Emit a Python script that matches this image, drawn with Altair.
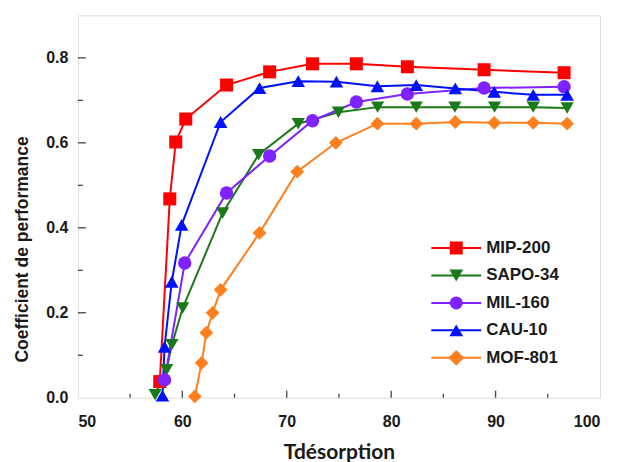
import altair as alt
import pandas as pd

# ---------------- data ----------------
series = ["MIP-200", "SAPO-34", "MIL-160", "CAU-10", "MOF-801"]
colors = ["#ff0000", "#1a7a1a", "#7f22ff", "#0011ff", "#ff7f1e"]
shapes = ["square", "triangle-down", "circle", "triangle-up", "diamond"]
sizes = [170, 190, 170, 190, 250]

mip_x = [57.84, 58.8, 59.37, 60.33, 64.24, 68.36, 72.47, 76.67, 81.55, 88.9, 96.56]
mip_y = [0.038, 0.468, 0.602, 0.656, 0.736, 0.767, 0.786, 0.786, 0.779, 0.772, 0.765]

sapo_x = [57.4, 58.5, 59.0, 60.04, 63.86, 67.3, 71.1, 74.95, 78.7, 82.4, 86.1, 89.9, 93.6, 96.85]
sapo_y = [0.007, 0.066, 0.125, 0.211, 0.435, 0.572, 0.645, 0.672, 0.684, 0.684, 0.684, 0.684, 0.684, 0.682]

mil_x = [58.3, 60.23, 64.24, 68.36, 72.47, 76.67, 81.55, 88.9, 96.56]
mil_y = [0.042, 0.317, 0.482, 0.569, 0.652, 0.696, 0.715, 0.729, 0.732]

cau_x = [58.1, 58.3, 58.99, 59.94, 63.67, 67.4, 71.1, 74.76, 78.68, 82.4, 86.14, 89.87, 93.6, 96.85]
cau_y = [0.005, 0.12, 0.273, 0.407, 0.649, 0.729, 0.745, 0.744, 0.733, 0.736, 0.728, 0.72, 0.713, 0.713]

mof_x = [61.2, 61.85, 62.3, 62.9, 63.67, 67.4, 71.0, 74.7, 78.68, 82.4, 86.14, 89.87, 93.6, 96.85]
mof_y = [0.003, 0.082, 0.153, 0.2, 0.254, 0.388, 0.532, 0.6, 0.645, 0.645, 0.649, 0.647, 0.647, 0.645]

x_major = [60, 70, 80, 90]
x_minor = [55, 65, 75, 85, 95]
y_major = [0.2, 0.4, 0.6, 0.8]
y_minor = [0.1, 0.3, 0.5, 0.7]

# ---------------- build table ----------------
rows = []
for name, xs, ys in zip(series,
                        [mip_x, sapo_x, mil_x, cau_x, mof_x],
                        [mip_y, sapo_y, mil_y, cau_y, mof_y]):
    for i, (x, y) in enumerate(zip(xs, ys)):
        rows.append({"serie": name, "T": x, "COP": y, "i": i})
df = pd.DataFrame(rows)

W, H = 523, 383
FONT = "Liberation Sans"

xscale = alt.Scale(domain=[50, 100], nice=False, zero=False)
yscale = alt.Scale(domain=[0, 0.9], nice=False)
color = alt.Color("serie:N", scale=alt.Scale(domain=series, range=colors), legend=None)
shape = alt.Shape("serie:N", scale=alt.Scale(domain=series, range=shapes), legend=None)
size = alt.Size("serie:N", scale=alt.Scale(domain=series, range=sizes), legend=None)

base = alt.Chart(df).encode(
    x=alt.X("T:Q", scale=xscale,
            axis=alt.Axis(title="Tdésorption", values=[50, 60, 70, 80, 90, 100],
                          ticks=False, grid=False, domain=False,
                          labelFont=FONT, labelFontWeight="bold", labelFontSize=16,
                          labelColor="#1a1a1a", labelPadding=16,
                          titleFont="Lato", titleFontWeight="bold", titleFontSize=21,
                          titleColor="#1a1a1a", titlePadding=12)),
    y=alt.Y("COP:Q", scale=yscale,
            axis=alt.Axis(title="Coefficient de performance",
                          values=[0, 0.2, 0.4, 0.6, 0.8], format=".1f",
                          ticks=False, grid=False, domain=False,
                          labelFont=FONT, labelFontWeight="bold", labelFontSize=16,
                          labelColor="#1a1a1a", labelPadding=10,
                          titleFont=FONT, titleFontWeight="bold", titleFontSize=17.5,
                          titleColor="#1a1a1a", titlePadding=14, titleY=234)),
    color=color,
)

lines = base.mark_line(strokeWidth=2).encode(detail="serie:N", order="i:Q")
points = base.mark_point(filled=True, opacity=1).encode(shape=shape, size=size)

# inward ticks
xt_major = alt.Chart(pd.DataFrame({"v": x_major})).mark_rule(color="#444", strokeWidth=1.3).encode(
    x=alt.X("v:Q", scale=xscale), y=alt.value(H), y2=alt.value(H - 7))
xt_minor = alt.Chart(pd.DataFrame({"v": x_minor})).mark_rule(color="#444", strokeWidth=1.3).encode(
    x=alt.X("v:Q", scale=xscale), y=alt.value(H), y2=alt.value(H - 4))
yt_major = alt.Chart(pd.DataFrame({"v": y_major})).mark_rule(color="#444", strokeWidth=1.3).encode(
    y=alt.Y("v:Q", scale=yscale), x=alt.value(0), x2=alt.value(8))
yt_minor = alt.Chart(pd.DataFrame({"v": y_minor})).mark_rule(color="#444", strokeWidth=1.3).encode(
    y=alt.Y("v:Q", scale=yscale), x=alt.value(0), x2=alt.value(5))

# legend
legend_layers = []
for k, (name, c, s, sz) in enumerate(zip(series, colors, shapes, sizes)):
    yy = 233 + k * 27.5
    one = alt.Chart(pd.DataFrame({"serie": [name]}))
    legend_layers.append(one.mark_rule(color=c, strokeWidth=2).encode(
        x=alt.value(354), x2=alt.value(404), y=alt.value(yy)))
    legend_layers.append(one.mark_point(filled=True, size=sz, opacity=1, color=c, shape=s).encode(
        x=alt.value(379), y=alt.value(yy)))
    legend_layers.append(one.mark_text(align="left", baseline="middle", font=FONT,
                                       fontWeight="bold", fontSize=17, color="#1a1a1a").encode(
        x=alt.value(409), y=alt.value(yy), text="serie:N"))

chart = alt.layer(
    lines, points, xt_major, xt_minor, yt_major, yt_minor, *legend_layers
).properties(
    width=W, height=H,
    autosize=alt.AutoSizeParams(type="none"),
    padding={"left": 70, "top": 7, "right": 10, "bottom": 64},
).configure_view(
    stroke="#555", strokeWidth=1.5
).configure(background="white")

chart.save("out.html", embed_options={"renderer": "svg", "actions": False})
